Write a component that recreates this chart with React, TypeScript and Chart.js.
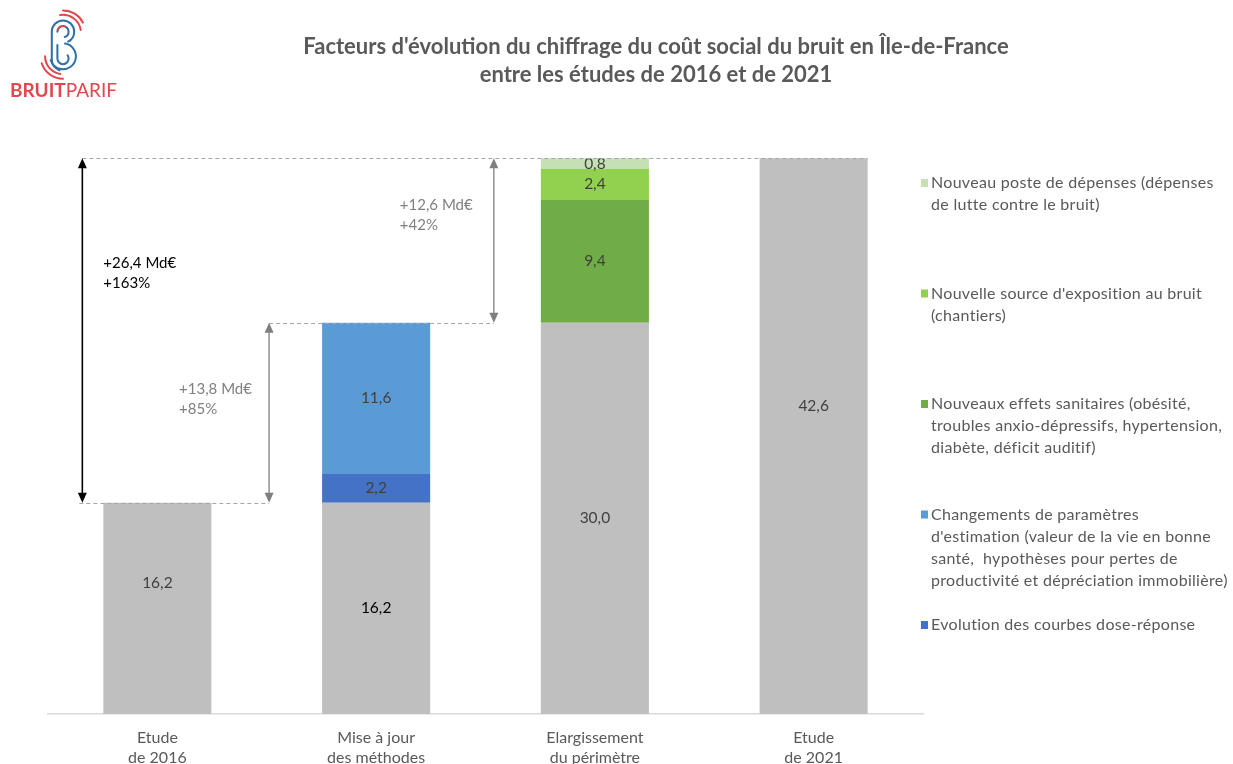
import { useEffect, useRef } from "react";
import { Chart, registerables } from "chart.js";

Chart.register(...registerables);

// ---------- DATA ----------
const categories = [
  ["Etude", "de 2016"],
  ["Mise à jour", "des méthodes"],
  ["Elargissement", "du périmètre"],
  ["Etude", "de 2021"],
];
const baseValues = [16.2, 16.2, 30.0, 42.6];
const doseReponse = [null, 2.2, null, null];
const parametresEstimation = [null, 11.6, null, null];
const effetsSanitaires = [null, null, 9.4, null];
const sourceExposition = [null, null, 2.4, null];
const posteDepenses = [null, null, 0.8, null];

const seriesNames = [
  "Coût total",
  "Evolution des courbes dose-réponse",
  "Changements de paramètres d'estimation (valeur de la vie en bonne santé,  hypothèses pour pertes de productivité et dépréciation immobilière)",
  "Nouveaux effets sanitaires (obésité, troubles anxio-dépressifs, hypertension, diabète, déficit auditif)",
  "Nouvelle source d'exposition au bruit (chantiers)",
  "Nouveau poste de dépenses (dépenses de lutte contre le bruit)",
];

// legend text lines (top to bottom)
const legendLines = [
  ["Nouveau poste de dépenses (dépenses", "de lutte contre le bruit)"],
  ["Nouvelle source d'exposition au bruit", "(chantiers)"],
  ["Nouveaux effets sanitaires (obésité,", "troubles anxio-dépressifs, hypertension,", "diabète, déficit auditif)"],
  ["Changements de paramètres", "d'estimation (valeur de la vie en bonne", "santé,  hypothèses pour pertes de", "productivité et dépréciation immobilière)"],
  ["Evolution des courbes dose-réponse"],
];

const stepFrom = [16.2, 16.2, 30.0];
const stepTo = [42.6, 30.0, 42.6];
const stepText = [
  ["+26,4 Md€", "+163%"],
  ["+13,8 Md€", "+85%"],
  ["+12,6 Md€", "+42%"],
];

const titleLines = [
  "Facteurs d'évolution du chiffrage du coût social du bruit en Île-de-France",
  "entre les études de 2016 et de 2021",
];

// ---------- STYLES ----------
const FONT = "Lato, 'Open Sans', sans-serif";
const colors = ["#BFBFBF", "#4472C4", "#5B9BD5", "#70AD47", "#92D050", "#C5E0B4"];
const legendColors = ["#C5E0B4", "#92D050", "#70AD47", "#5B9BD5", "#4472C4"];
const baseLabelFrac = [0.62, 0.5, 0.5, 0.554];
const baseLabelColor = ["#404040", "#000000", "#404040", "#404040"];
const stepBarIndex = [0, 1, 2];
const stepArrowOffset = [-21, -53, -47];
const stepTextOffset = [21, -90, -94];
const stepTextFrac = [0.304, 0.37, 0.287];
const stepColor = ["#000000", "#7F7F7F", "#7F7F7F"];
const stepTextColor = ["#000000", "#808080", "#808080"];

const fmt = (v: number) => v.toFixed(1).replace(".", ",");

function drawArrow(ctx: CanvasRenderingContext2D, x: number, y1: number, y2: number, color: string, lw: number) {
  const hl = 10;
  const hw = 4.5;
  ctx.save();
  ctx.strokeStyle = color;
  ctx.fillStyle = color;
  ctx.lineWidth = lw;
  ctx.beginPath();
  ctx.moveTo(x, y1 + hl - 1);
  ctx.lineTo(x, y2 - hl + 1);
  ctx.stroke();
  ctx.beginPath();
  ctx.moveTo(x, y1);
  ctx.lineTo(x - hw, y1 + hl);
  ctx.lineTo(x + hw, y1 + hl);
  ctx.closePath();
  ctx.fill();
  ctx.beginPath();
  ctx.moveTo(x, y2);
  ctx.lineTo(x - hw, y2 - hl);
  ctx.lineTo(x + hw, y2 - hl);
  ctx.closePath();
  ctx.fill();
  ctx.restore();
}

function drawDashed(ctx: CanvasRenderingContext2D, x1: number, x2: number, y: number) {
  ctx.save();
  ctx.strokeStyle = "#A6A6A6";
  ctx.lineWidth = 1;
  ctx.setLineDash([4, 3]);
  ctx.beginPath();
  ctx.moveTo(x1, Math.round(y) + 0.5);
  ctx.lineTo(x2, Math.round(y) + 0.5);
  ctx.stroke();
  ctx.restore();
}

function drawLogo(ctx: CanvasRenderingContext2D) {
  ctx.save();
  const blue = "#2F6FA8";
  const red = "#E2474D";
  ctx.save();
  ctx.translate(63, 44);
  ctx.scale(1.12, 1.12);
  ctx.translate(-62, -41);
  ctx.lineWidth = 1.8;
  ctx.lineCap = "round";
  // blue B outline
  ctx.strokeStyle = blue;
  ctx.beginPath();
  ctx.moveTo(52, 55);
  ctx.lineTo(52, 30);
  ctx.arc(62, 30, 10, Math.PI, 0.35 * Math.PI, false);
  ctx.stroke();
  ctx.beginPath();
  ctx.arc(62, 52, 11.5, -0.45 * Math.PI, 0.9 * Math.PI, false);
  ctx.stroke();
  ctx.beginPath();
  ctx.moveTo(52, 55);
  ctx.arc(62, 55, 10, Math.PI, 0.6 * Math.PI, true);
  ctx.stroke();
  // inner blue
  ctx.beginPath();
  ctx.moveTo(57, 42);
  ctx.lineTo(57, 54);
  ctx.arc(62, 54, 5, Math.PI, -0.2 * Math.PI, true);
  ctx.stroke();
  ctx.beginPath();
  ctx.arc(62, 30, 5, Math.PI, 0.4 * Math.PI, false);
  ctx.stroke();
  // red arcs
  ctx.strokeStyle = red;
  ctx.beginPath();
  ctx.arc(62, 31, 16, -0.55 * Math.PI, -0.05 * Math.PI, false);
  ctx.stroke();
  ctx.beginPath();
  ctx.arc(62, 31, 20, -0.5 * Math.PI, -0.15 * Math.PI, false);
  ctx.stroke();
  ctx.beginPath();
  ctx.arc(62, 52, 16, 0.55 * Math.PI, 1.0 * Math.PI, false);
  ctx.stroke();
  ctx.beginPath();
  ctx.arc(62, 52, 20, 0.5 * Math.PI, 0.9 * Math.PI, false);
  ctx.stroke();
  ctx.beginPath();
  ctx.arc(62, 30, 5, 1.1 * Math.PI, 1.6 * Math.PI, false);
  ctx.stroke();
  ctx.restore();
  // text
  ctx.fillStyle = red;
  ctx.textBaseline = "alphabetic";
  ctx.textAlign = "left";
  ctx.font = `bold 19px ${FONT}`;
  ctx.fillText("BRUIT", 10, 97);
  const w = ctx.measureText("BRUIT").width;
  ctx.font = `19px ${FONT}`;
  ctx.fillText("PARIF", 10 + w, 97);
  ctx.restore();
}

const overlayPlugin = {
  id: "overlay",
  afterDatasetsDraw(chart: any) {
    const ctx: CanvasRenderingContext2D = chart.ctx;
    ctx.save();
    ctx.font = `15.5px ${FONT}`;
    ctx.textAlign = "center";
    ctx.textBaseline = "middle";
    chart.data.datasets.forEach((ds: any, di: number) => {
      const meta = chart.getDatasetMeta(di);
      meta.data.forEach((el: any, i: number) => {
        const v = ds.data[i];
        if (v == null) return;
        const { x, y, base } = el.getProps(["x", "y", "base"], true);
        const frac = di === 0 ? baseLabelFrac[i] : 0.5;
        ctx.fillStyle = di === 0 ? baseLabelColor[i] : "#404040";
        ctx.fillText(fmt(v), x, base + (y - base) * frac);
      });
    });
    ctx.restore();
  },
  afterDraw(chart: any) {
    const ctx: CanvasRenderingContext2D = chart.ctx;
    const ys = chart.scales.y;
    const baseMeta = chart.getDatasetMeta(0);
    const left = (i: number) => {
      const el = baseMeta.data[i];
      return el.x - el.width / 2;
    };
    const right = (i: number) => {
      const el = baseMeta.data[i];
      return el.x + el.width / 2;
    };

    // title
    ctx.save();
    ctx.fillStyle = "#595959";
    ctx.font = `bold 22px ${FONT}`;
    ctx.textAlign = "center";
    ctx.textBaseline = "middle";
    ctx.fillText(titleLines[0], 656, 47);
    ctx.fillText(titleLines[1], 656, 75);
    ctx.restore();

    drawLogo(ctx);

    // annotations
    const ax = stepBarIndex.map((b, k) => left(b) + stepArrowOffset[k]);
    const yTop = ys.getPixelForValue(stepTo[0]);
    const yMid = ys.getPixelForValue(stepTo[1]);
    const yLow = ys.getPixelForValue(stepFrom[0]);
    drawDashed(ctx, ax[0], right(3), yTop);
    drawDashed(ctx, ax[1], ax[2], yMid);
    drawDashed(ctx, ax[0] - 3, ax[1], yLow);
    stepFrom.forEach((f, k) => {
      const y1 = ys.getPixelForValue(stepTo[k]);
      const y2 = ys.getPixelForValue(f);
      drawArrow(ctx, ax[k], y1, y2, stepColor[k], k === 0 ? 1.6 : 1.3);
      ctx.save();
      ctx.font = `15px ${FONT}`;
      ctx.fillStyle = stepTextColor[k];
      ctx.textAlign = "left";
      ctx.textBaseline = "middle";
      const ty = y1 + (y2 - y1) * stepTextFrac[k];
      stepText[k].forEach((t, j) => ctx.fillText(t, ax[k] + stepTextOffset[k], ty + j * 20));
      ctx.restore();
    });

    // legend
    ctx.save();
    ctx.font = `16px ${FONT}`;
    (ctx as any).letterSpacing = "0.3px";
    ctx.textAlign = "left";
    ctx.textBaseline = "middle";
    legendLines.forEach((lines, i) => {
      const y0 = 183 + i * 110.5;
      ctx.fillStyle = legendColors[i];
      ctx.fillRect(921, y0 - 4, 7, 8);
      ctx.fillStyle = "#595959";
      lines.forEach((t, j) => ctx.fillText(t, 931, y0 + j * 22));
    });
    ctx.restore();
  },
};

export default function App() {
  const ref = useRef<HTMLCanvasElement | null>(null);
  useEffect(() => {
    document.body.style.margin = "0";
    const canvas = ref.current!;
    const data = [baseValues, doseReponse, parametresEstimation, effetsSanitaires, sourceExposition, posteDepenses];
    const chart = new Chart(canvas, {
      type: "bar",
      data: {
        labels: categories,
        datasets: data.map((d, i) => ({
          label: seriesNames[i],
          data: d as any,
          backgroundColor: colors[i],
          borderWidth: 0,
          categoryPercentage: 1,
          barPercentage: 0.494,
        })),
      },
      options: {
        responsive: false,
        animation: false,
        layout: { padding: { top: 127, left: 48, right: 310, bottom: 0 } },
        plugins: {
          legend: { display: false },
          tooltip: { enabled: false },
          title: { display: false },
        },
        scales: {
          x: {
            stacked: true,
            grid: { display: false },
            border: { display: true, color: "#D9D9D9", width: 1.5 },
            ticks: {
              color: "#595959",
              font: { family: FONT, size: 16, lineHeight: 1.25 },
              padding: 6,
              maxRotation: 0,
              autoSkip: false,
            },
            afterFit: (s: any) => {
              s.height = 50;
            },
          },
          y: {
            stacked: true,
            display: false,
            min: 0,
            max: 45,
          },
        },
      },
      plugins: [overlayPlugin],
    });
    return () => chart.destroy();
  }, []);
  return <canvas ref={ref} width={1233} height={764} style={{ display: "block" }} />;
}
